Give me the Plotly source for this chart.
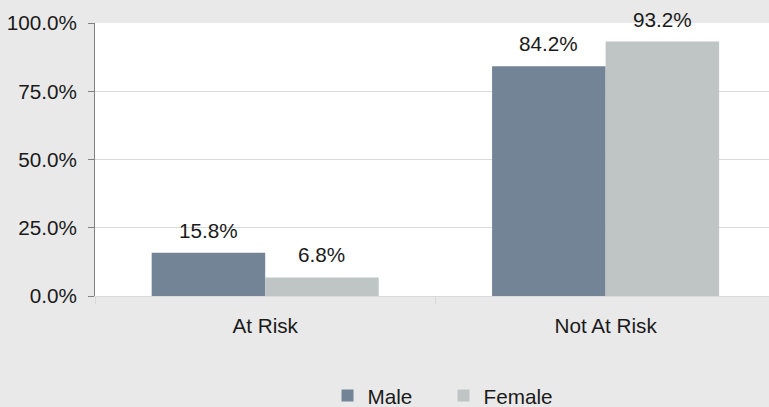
import plotly.graph_objects as go

categories = ["At Risk", "Not At Risk"]
male = [15.8, 84.2]
female = [6.8, 93.2]
series_names = ["Male", "Female"]
series_colors = ["#738497", "#bfc5c5"]
tick_vals = [0, 25, 50, 75, 100]
tick_text = ["0.0%", "25.0%", "50.0%", "75.0%", "100.0%"]

FONT = "Liberation Sans, Arial, sans-serif"
FS = 20.7
BARGAP = 0.333

fig = go.Figure()
series = [male, female]
for name, vals, col in zip(series_names, series, series_colors):
    fig.add_trace(go.Bar(
        x=categories, y=vals, name=name,
        marker=dict(color=col, line=dict(width=0)),
    ))

# value labels placed above each bar, offset within the group
n = len(series)
bw = (1 - BARGAP) / n
annotations = []
for si, vals in enumerate(series):
    off = -(1 - BARGAP) / 2 + bw * (si + 0.5)
    for ci, v in enumerate(vals):
        annotations.append(dict(
            x=ci + off, y=v, xref="x", yref="y", text=f"{v:.1f}%",
            showarrow=False, yanchor="bottom", xanchor="center", yshift=9,
            font=dict(family=FONT, size=FS, color="#1a1a1a"),
        ))

fig.update_layout(
    width=769, height=407,
    margin=dict(l=95, r=0, t=23, b=111, autoexpand=False),
    paper_bgcolor="#e9e9e9", plot_bgcolor="#ffffff",
    barmode="group", bargap=BARGAP, bargroupgap=0,
    font=dict(family=FONT, size=FS, color="#1a1a1a"),
    showlegend=True,
    annotations=annotations,
    legend=dict(orientation="h", x=0.345, xanchor="left", y=-0.365, yanchor="middle",
                font=dict(family=FONT, size=FS), bgcolor="rgba(0,0,0,0)", itemwidth=30,
                entrywidth=71, traceorder="normal"),
    xaxis=dict(range=[-0.5, 1.48], showgrid=False, showline=True, linecolor="#d9d9d9", linewidth=1,
               ticks="outside", tickson="boundaries", ticklen=7, tickcolor="#d9d9d9",
               ticklabelstandoff=11, tickfont=dict(family=FONT, size=FS)),
    yaxis=dict(range=[0, 100], tickvals=tick_vals, ticktext=tick_text,
               showgrid=True, gridcolor="#d9d9d9", gridwidth=1, zeroline=False,
               showline=True, linecolor="#808080", linewidth=1,
               ticks="outside", ticklen=6, tickcolor="#808080",
               ticklabelstandoff=7, tickfont=dict(family=FONT, size=FS)),
)
fig.write_html("out.html", config={"displayModeBar": False},
               post_script="document.body.style.margin='0';document.body.style.overflow='hidden';")
